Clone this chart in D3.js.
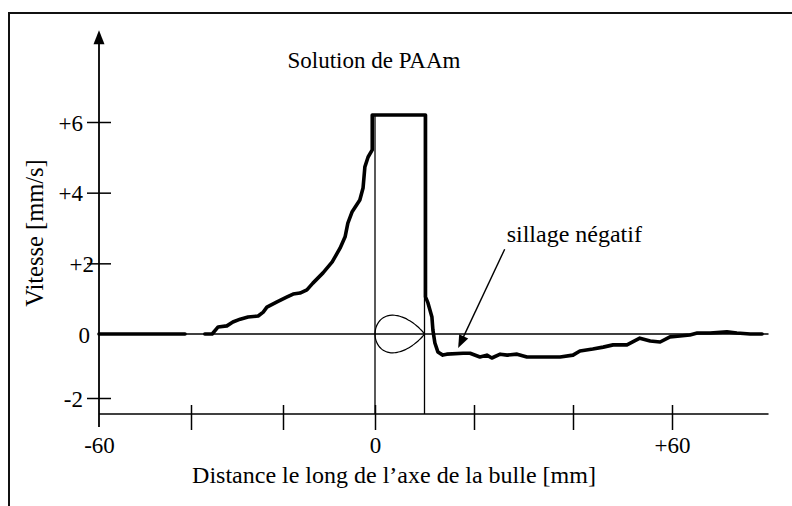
<!DOCTYPE html>
<html>
<head>
<meta charset="utf-8">
<script src="https://cdn.jsdelivr.net/npm/d3@7"></script>
<style>
  body { margin: 0; background: #fff; }
  svg { display: block; }
  text { font-family: "Liberation Serif", "DejaVu Serif", serif; fill: #000; }
</style>
</head>
<body>
<div id="chart"></div>
<script>
// Vitesse le long de l'axe de la bulle, solution de PAAm

// distance along the bubble axis [mm] and velocity [mm/s]
// (null = break in the trace)
const distance = [-60, -50, -41.3, -39, -37.0, -35.4, -34.1, -32.2, -30.9, -29.3, -27.6,
  -25.4, -24.3, -23.5, -21.3, -19.1, -17.8, -16.3, -14.8, -13.5, -11.3, -9.3,
  -7.6, -6.5, -5.9, -5.0, -3.3, -2.6, -2.2, -1.5, -0.6, -0.6, 10.2, 10.2,
  10.7, 11.5, 11.7, 12.1, 12.7, 13.7, 14.5, 17.8, 19.2, 21.2, 22.6, 23.6,
  25.3, 26.7, 28.7, 30.7, 33.3, 37.4, 40.0, 41.4, 44.0, 46.1, 48.1, 50.9,
  53.5, 55.6, 57.6, 59.6, 61.6, 63.6, 65.1, 67.7, 71.1, 73.1, 75.8, 78.2];
const velocity = [0, 0, 0, null, 0, 0, 0.2, 0.23, 0.34, 0.42, 0.48,
  0.51, 0.62, 0.76, 0.91, 1.05, 1.13, 1.16, 1.25, 1.44, 1.73, 2.04,
  2.43, 2.75, 3.14, 3.45, 3.79, 4.13, 4.73, 5.01, 5.21, 6.2, 6.2, 1.05,
  0.88, 0.48, 0.11, -0.28, -0.56, -0.66, -0.63, -0.6, -0.6, -0.72, -0.66, -0.75,
  -0.63, -0.66, -0.63, -0.72, -0.72, -0.72, -0.66, -0.53, -0.47, -0.41, -0.34, -0.34,
  -0.13, -0.22, -0.25, -0.09, -0.06, -0.03, 0.03, 0.03, 0.06, 0.03, 0, 0];

const xTicks = [-60, -40, -20, 0, 20, 40, 60];
const xTickLabels = ["-60", "", "", "0", "", "", "+60"];
const yTicks = [-2, 0, 2, 4, 6];
const yTickLabels = ["-2", "0", "+2", "+4", "+6"];

const bubble = [0, 10];        // bubble extent along the axis [mm]
const plateau = 6.2;           // top of the bubble box [mm/s]
const xAxisAt = -2.5;          // where the distance axis sits
const xEnd = 79.5;
const yTop = 8.6;

const titleText = "Solution de PAAm";
const xTitle = "Distance le long de l\u2019axe de la bulle [mm]";
const yTitle = "Vitesse [mm/s]";
const note = "sillage n\u00e9gatif";
const notePos = [26.6, 2.6];
const arrowFrom = [26.2, 2.4];
const arrowTo = [16.8, -0.44];

const W = 792, H = 506;

// hand-drawn figure: the two halves of each axis are not quite the same length
let x = d3.scaleLinear().domain([-60, 0, 60]).range([99, 375, 672]);
let y = d3.scaleLinear().domain([-2, 0, 6]).range([398, 334, 122]);

let svg = d3.select("#chart").append("svg")
    .attr("width", W)
    .attr("height", H);

// scanned frame (left and top edges only)
svg.append("path")
    .attr("d", "M9," + H + "V13H" + W)
    .attr("fill", "none")
    .attr("stroke", "#111")
    .attr("stroke-width", 2);

// zero line
svg.append("line")
    .attr("x1", x(-60)).attr("x2", x(xEnd))
    .attr("y1", y(0)).attr("y2", y(0))
    .attr("stroke", "#000").attr("stroke-width", 1.3);

// bubble box
bubble.forEach(function(d) {
    svg.append("line")
        .attr("x1", x(d)).attr("x2", x(d))
        .attr("y1", y(plateau)).attr("y2", y(xAxisAt))
        .attr("stroke", "#000").attr("stroke-width", 1.3);
});

// the bubble itself, a drop pointing downstream
let bx0 = x(bubble[0]), bx1 = x(bubble[1]), by = y(0);
let dropPts = d3.range(0, 361, 6).map(function(a) {
    let t = a * Math.PI / 180;
    let u = (1 - Math.cos(t)) / 2;                  // 0 at the tail, 1 at the nose
    let h = Math.sin(t) * Math.pow(Math.sin(t / 2), 0.8);
    return [bx1 - u * (bx1 - bx0), by - h * 23.5];
});
svg.append("path")
    .attr("d", d3.line().curve(d3.curveBasisClosed)(dropPts))
    .attr("fill", "none")
    .attr("stroke", "#000")
    .attr("stroke-width", 1.2);

// y axis with arrow
let yAxis = svg.append("g")
    .attr("transform", "translate(" + x(-60) + ",0)")
    .call(d3.axisLeft(y).tickValues(yTicks).tickSize(12)
        .tickFormat(function(d, i) { return yTickLabels[i]; }));
yAxis.select(".domain").remove();
yAxis.selectAll(".tick line")
    .attr("x1", 12)
    .attr("stroke", "#000")
    .attr("stroke-width", 1.5)
    .filter(function(d) { return d === 0; }).remove();
yAxis.selectAll(".tick text")
    .attr("x", function(d) { return d === 2 ? -5 : (d === 0 ? -9 : -16); })
    .attr("dy", "0.35em")
    .style("font-size", "23px");

svg.append("line")
    .attr("x1", x(-60)).attr("x2", x(-60))
    .attr("y1", y(xAxisAt) + 13).attr("y2", y(yTop) + 10)
    .attr("stroke", "#000").attr("stroke-width", 1.8);
svg.append("path")
    .attr("d", "M" + x(-60) + "," + y(yTop) + "l-5.5,14h11z")
    .attr("fill", "#000");

// x axis
let xAxis = svg.append("g")
    .attr("transform", "translate(0," + y(xAxisAt) + ")")
    .call(d3.axisBottom(x).tickValues(xTicks).tickSize(16)
        .tickFormat(function(d, i) { return xTickLabels[i]; }));
xAxis.select(".domain").remove();
xAxis.selectAll(".tick line")
    .attr("y1", -9)
    .attr("stroke", "#000")
    .attr("stroke-width", 1.5)
    .filter(function(d) { return d === -60; }).remove();
xAxis.selectAll(".tick text")
    .attr("y", 39)
    .attr("dy", 0)
    .style("font-size", "23px");
svg.append("line")
    .attr("x1", x(-60)).attr("x2", x(xEnd))
    .attr("y1", y(xAxisAt)).attr("y2", y(xAxisAt))
    .attr("stroke", "#000").attr("stroke-width", 1.6);

// velocity trace
let trace = distance.map(function(d, i) { return [d, velocity[i]]; });
svg.append("path")
    .datum(trace)
    .attr("fill", "none")
    .attr("stroke", "#000")
    .attr("stroke-width", 3.6)
    .attr("stroke-linejoin", "round")
    .attr("stroke-linecap", "round")
    .attr("d", d3.line()
        .defined(function(d) { return d[1] !== null; })
        .x(function(d) { return x(d[0]); })
        .y(function(d) { return y(d[1]); }));

// annotation
svg.append("text")
    .attr("x", x(notePos[0])).attr("y", y(notePos[1]))
    .style("font-size", "24px")
    .text(note);
let ax0 = x(arrowFrom[0]), ay0 = y(arrowFrom[1]);
let ax1 = x(arrowTo[0]), ay1 = y(arrowTo[1]);
let ang = Math.atan2(ay1 - ay0, ax1 - ax0);
svg.append("line")
    .attr("x1", ax0).attr("y1", ay0)
    .attr("x2", ax1 - 8 * Math.cos(ang)).attr("y2", ay1 - 8 * Math.sin(ang))
    .attr("stroke", "#000").attr("stroke-width", 1.4);
svg.append("path")
    .attr("d", "M0,0L-13,-5L-13,5Z")
    .attr("transform", "translate(" + ax1 + "," + ay1 + ") rotate(" + (ang * 180 / Math.PI) + ")")
    .attr("fill", "#000");

// titles
svg.append("text")
    .attr("x", 374).attr("y", 68)
    .style("text-anchor", "middle")
    .style("font-size", "23px")
    .text(titleText);

svg.append("text")
    .attr("x", 394).attr("y", 483)
    .style("text-anchor", "middle")
    .style("font-size", "24px")
    .text(xTitle);

svg.append("text")
    .attr("transform", "rotate(-90)")
    .attr("x", -233).attr("y", 43)
    .style("text-anchor", "middle")
    .style("font-size", "24.5px")
    .text(yTitle);
</script>
</body>
</html>
